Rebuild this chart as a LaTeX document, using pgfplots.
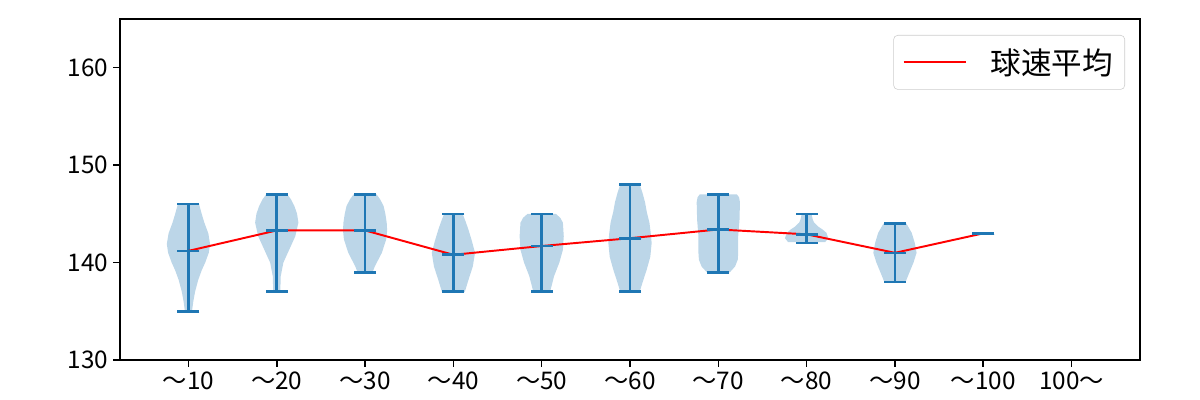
\documentclass[border=0pt]{standalone}
\usepackage{fontspec}
\setmainfont{Noto Sans CJK JP}
\usepackage{pgfplots}
\pgfplotsset{compat=1.18}
\usepackage{pgfplotstable}
\definecolor{c0}{HTML}{1F77B4}
\definecolor{vfill}{RGB}{188,214,232}

\pgfplotstableread{
x mn mx mean
1 135 146 141.2
2 137 147 143.3
3 139 147 143.3
4 137 145 140.8
5 137 145 141.7
6 137 148 142.5
7 139 147 143.4
8 142 145 142.9
9 138 144 141.0
10 143 143 143.0
}\stats

% violin outlines: y, signed half-width (right side upward, left side downward)
\pgfplotstableread{
y w
135.0 0.04
136.0 0.055
137.0 0.075
138.2 0.11
139.2 0.15
140.0 0.19
141.0 0.23
141.9 0.245
143.0 0.225
144.1 0.18
145.0 0.15
146.0 0.12
146.0 -0.12
145.0 -0.15
144.1 -0.18
143.0 -0.225
141.9 -0.245
141.0 -0.23
140.0 -0.19
139.2 -0.15
138.2 -0.11
137.0 -0.075
136.0 -0.055
135.0 -0.04
}\vA
\pgfplotstableread{
y w
137.0 0.04
138.6 0.045
140.0 0.075
141.3 0.14
142.7 0.21
144.1 0.245
145.0 0.23
145.8 0.20
146.5 0.16
147.0 0.12
147.0 -0.12
146.5 -0.16
145.8 -0.20
145.0 -0.23
144.1 -0.245
142.7 -0.21
141.3 -0.14
140.0 -0.075
138.6 -0.045
137.0 -0.04
}\vB
\pgfplotstableread{
y w
139.0 0.085
139.6 0.11
140.3 0.15
141.0 0.19
142.4 0.24
143.3 0.25
144.1 0.245
145.0 0.23
145.8 0.21
146.5 0.17
147.0 0.13
147.0 -0.13
146.5 -0.17
145.8 -0.21
145.0 -0.23
144.1 -0.245
143.3 -0.25
142.4 -0.24
141.0 -0.19
140.3 -0.15
139.6 -0.11
139.0 -0.085
}\vC
\pgfplotstableread{
y w
137.0 0.13
138.2 0.17
139.6 0.22
141.0 0.245
142.2 0.21
143.4 0.17
144.3 0.135
145.0 0.105
145.0 -0.105
144.3 -0.135
143.4 -0.17
142.2 -0.21
141.0 -0.245
139.6 -0.22
138.2 -0.17
137.0 -0.13
}\vD
\pgfplotstableread{
y w
137.0 0.095
138.6 0.14
140.0 0.20
141.3 0.24
142.7 0.25
144.1 0.24
144.6 0.21
145.0 0.16
145.0 -0.16
144.6 -0.21
144.1 -0.24
142.7 -0.25
141.3 -0.24
140.0 -0.20
138.6 -0.14
137.0 -0.095
}\vE
\pgfplotstableread{
y w
137.0 0.11
137.9 0.14
139.3 0.19
140.6 0.23
142.0 0.245
143.0 0.235
144.1 0.22
145.2 0.19
146.2 0.17
147.2 0.14
148.0 0.11
148.0 -0.11
147.2 -0.14
146.2 -0.17
145.2 -0.19
144.1 -0.22
143.0 -0.235
142.0 -0.245
140.6 -0.23
139.3 -0.19
137.9 -0.14
137.0 -0.11
}\vF
\pgfplotstableread{
y w
139.0 0.13
139.6 0.19
140.3 0.22
141.0 0.225
142.7 0.225
144.4 0.24
146.2 0.245
146.7 0.235
147.0 0.21
147.0 -0.21
146.7 -0.235
146.2 -0.245
144.4 -0.24
142.7 -0.225
141.0 -0.225
140.3 -0.22
139.6 -0.19
139.0 -0.13
}\vG
\pgfplotstableread{
y w
142.1 0.21
142.5 0.245
143.05 0.225
143.4 0.18
143.7 0.13
144.1 0.085
144.4 0.07
145.0 0.055
145.0 -0.055
144.4 -0.07
144.1 -0.085
143.7 -0.13
143.4 -0.18
143.05 -0.225
142.5 -0.245
142.1 -0.21
}\vH
\pgfplotstableread{
y w
138.0 0.12
138.9 0.16
140.0 0.21
141.0 0.245
142.0 0.225
143.05 0.19
144.0 0.13
144.0 -0.13
143.05 -0.19
142.0 -0.225
141.0 -0.245
140.0 -0.21
138.9 -0.16
138.0 -0.12
}\vI

\begin{document}
\begin{tikzpicture}
\useasboundingbox (0,0) rectangle (864pt,288pt);
\begin{axis}[
  at={(86.4pt,28.8pt)}, anchor=south west,
  scale only axis, width=734.4pt, height=245.5pt,
  xmin=0.225, xmax=11.775, ymin=130, ymax=165,
  xtick={1,2,3,4,5,6,7,8,9,10,11},
  xticklabels={〜10,〜20,〜30,〜40,〜50,〜60,〜70,〜80,〜90,〜100,100〜},
  ytick={130,140,150,160},
  tick align=outside, xtick pos=bottom, ytick pos=left,
  major tick length=5pt,
  tick style={black, line width=1.1pt},
  axis line style={black, line width=1.1pt},
  ticklabel style={font=\fontsize{17.5}{20}\selectfont},
  /pgf/number format/assume math mode=true,
  legend style={at={(1,1)}, anchor=north east, xshift=-10.8pt, yshift=-11.5pt,
    draw=black!20, rounded corners=3pt, font=\fontsize{22}{26}\selectfont,
    inner xsep=6.5pt, inner ysep=7.5pt},
  legend cell align=left,
  legend image code/.code={\draw[#1] (0pt,0pt) -- (44.6pt,0pt); \path (60pt,0pt);},
]
\addplot[fill=vfill, draw=none, forget plot] table[x expr=1+\thisrow{w}, y=y] {\vA};
\addplot[fill=vfill, draw=none, forget plot] table[x expr=2+\thisrow{w}, y=y] {\vB};
\addplot[fill=vfill, draw=none, forget plot] table[x expr=3+\thisrow{w}, y=y] {\vC};
\addplot[fill=vfill, draw=none, forget plot] table[x expr=4+\thisrow{w}, y=y] {\vD};
\addplot[fill=vfill, draw=none, forget plot] table[x expr=5+\thisrow{w}, y=y] {\vE};
\addplot[fill=vfill, draw=none, forget plot] table[x expr=6+\thisrow{w}, y=y] {\vF};
\addplot[fill=vfill, draw=none, forget plot] table[x expr=7+\thisrow{w}, y=y] {\vG};
\addplot[fill=vfill, draw=none, forget plot] table[x expr=8+\thisrow{w}, y=y] {\vH};
\addplot[fill=vfill, draw=none, forget plot] table[x expr=9+\thisrow{w}, y=y] {\vI};

\addplot[draw=none, mark=none, forget plot,
  error bars/.cd, y dir=plus, y explicit, error mark=none,
  error bar style={c0, line width=1.9pt}]
  table[x=x, y=mn, y error expr=\thisrow{mx}-\thisrow{mn}] {\stats};
\addplot[c0, only marks, mark=-, mark size=7.95pt, mark options={line width=1.9pt}, forget plot] table[x=x, y=mx] {\stats};
\addplot[c0, only marks, mark=-, mark size=7.95pt, mark options={line width=1.9pt}, forget plot] table[x=x, y=mn] {\stats};
\addplot[c0, only marks, mark=-, mark size=7.95pt, mark options={line width=1.9pt}, forget plot] table[x=x, y=mean] {\stats};

\addplot[red, line width=1.4pt] table[x=x, y=mean] {\stats};
\addlegendentry{球速平均}
\end{axis}
\end{tikzpicture}
\end{document}
